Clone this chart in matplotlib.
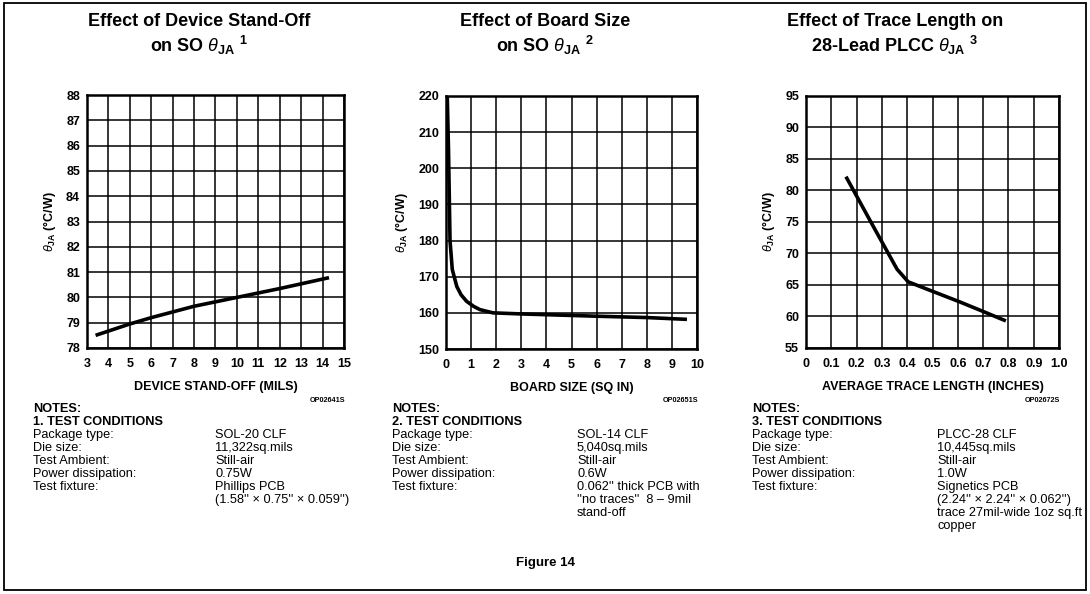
import numpy as np
import matplotlib as mpl
mpl.use('Agg')
from matplotlib import pyplot as plt
from matplotlib.patches import Rectangle

# Curve data
standoff_x = [3.4, 5, 6, 8, 10, 12, 14.3]
standoff_y = [78.5, 78.95, 79.2, 79.65, 80.0, 80.35, 80.78]

board_x = [0.05, 0.1, 0.16, 0.25, 0.43, 0.6, 0.82, 1.1, 1.35, 1.87, 3.0, 5.86, 8.0, 9.6]
board_y = [220, 205, 180, 172, 167.3, 165.0, 163.2, 161.8, 160.9, 160.0, 159.7, 159.1, 158.7, 158.2]

trace_x = [0.158, 0.266, 0.36, 0.404, 0.5, 0.609, 0.70, 0.79]
trace_y = [82.2, 74.3, 67.5, 65.5, 64.0, 62.3, 60.8, 59.3]

W, H = 1090, 594
mpl.rc('font', family=['Liberation Sans', 'DejaVu Sans'])
mpl.rc('mathtext', fontset='custom', rm='Liberation Sans', it='Liberation Sans:italic',
       bf='Liberation Sans:bold')

fig = plt.figure(figsize=(W / 100, H / 100), dpi=100)


def fx(x):
    return x / W


def fy(y):
    return 1 - y / H


def add_panel(box, tcx, xlim, ylim, xticks, yticks, xlabels, x, y, title, xlabel, code, notes, nx, vx):
    left, top, right, bottom = box
    ax = fig.add_axes([fx(left), fy(bottom), (right - left) / W, (bottom - top) / H])
    ax.set_xlim(*xlim)
    ax.set_ylim(*ylim)
    ax.set_xticks(xticks)
    ax.set_yticks(yticks)
    ax.set_xticklabels(xlabels, fontsize=9, fontweight='bold')
    ax.set_yticklabels([str(v) for v in yticks], fontsize=9, fontweight='bold')
    ax.tick_params(axis='x', length=0, pad=7)
    ax.tick_params(axis='y', length=0, pad=5)
    ax.grid(True, color='black', lw=1.1)
    for s in ax.spines.values():
        s.set_linewidth(1.8)
    ax.plot(x, y, color='black', lw=2.6, solid_capstyle='butt')
    ax.set_ylabel(r'$\theta_{\mathbf{JA}}$ (°C/W)', fontsize=9, fontweight='bold', labelpad=6)
    ax.set_xlabel(xlabel, fontsize=9, fontweight='bold', labelpad=8)

    fig.text(fx(tcx), fy(22), title[0], ha='center', va='center', fontsize=13, fontweight='bold')
    fig.text(fx(tcx), fy(45), title[1], ha='center', va='center', fontsize=13, fontweight='bold')
    fig.text(fx(right + 1), fy(400), code, ha='right', va='center', fontsize=5.2, fontweight='bold')

    fs = 9.2
    fig.text(fx(nx), fy(409), 'NOTES:', ha='left', va='center', fontsize=fs, fontweight='bold')
    fig.text(fx(nx), fy(422), notes[0], ha='left', va='center', fontsize=fs, fontweight='bold')
    for i, (k, v) in enumerate(notes[1]):
        yy = 435 + 13 * i
        if k:
            fig.text(fx(nx), fy(yy), k, ha='left', va='center', fontsize=fs)
        fig.text(fx(vx), fy(yy), v, ha='left', va='center', fontsize=fs)
    return ax


add_panel((87, 95, 344, 348), 199, (3, 15), (78, 88), range(3, 16), list(range(78, 89)),
          [str(v) for v in range(3, 16)], standoff_x, standoff_y,
          ('Effect of Device Stand-Off', r'on SO $\theta_{\mathbf{JA}}$ $^{\mathbf{1}}$'),
          'DEVICE STAND-OFF (MILS)', 'OP02641S',
          ('1. TEST CONDITIONS', [('Package type:', 'SOL-20 CLF'),
                                  ('Die size:', '11,322sq.mils'),
                                  ('Test Ambient:', 'Still-air'),
                                  ('Power dissipation:', '0.75W'),
                                  ('Test fixture:', 'Phillips PCB'),
                                  ('', "(1.58'' × 0.75'' × 0.059'')")]), 33, 215)

add_panel((446, 96, 697, 349), 545, (0, 10), (150, 220), range(0, 11), list(range(150, 221, 10)),
          [str(v) for v in range(0, 11)], board_x, board_y,
          ('Effect of Board Size', r'on SO $\theta_{\mathbf{JA}}$ $^{\mathbf{2}}$'),
          'BOARD SIZE (SQ IN)', 'OP02651S',
          ('2. TEST CONDITIONS', [('Package type:', 'SOL-14 CLF'),
                                  ('Die size:', '5,040sq.mils'),
                                  ('Test Ambient:', 'Still-air'),
                                  ('Power dissipation:', '0.6W'),
                                  ('Test fixture:', "0.062'' thick PCB with"),
                                  ('', "''no traces''  8 – 9mil"),
                                  ('', 'stand-off')]), 392, 577)

add_panel((806, 96, 1059, 348), 895, (0, 1), (55, 95), np.arange(0, 1.01, 0.1), list(range(55, 96, 5)),
          ['0'] + ['0.%d' % i for i in range(1, 10)] + ['1.0'], trace_x, trace_y,
          ('Effect of Trace Length on', r'28-Lead PLCC $\theta_{\mathbf{JA}}$ $^{\mathbf{3}}$'),
          'AVERAGE TRACE LENGTH (INCHES)', 'OP02672S',
          ('3. TEST CONDITIONS', [('Package type:', 'PLCC-28 CLF'),
                                  ('Die size:', '10,445sq.mils'),
                                  ('Test Ambient:', 'Still-air'),
                                  ('Power dissipation:', '1.0W'),
                                  ('Test fixture:', 'Signetics PCB'),
                                  ('', "(2.24'' × 2.24'' × 0.062'')"),
                                  ('', 'trace 27mil-wide 1oz sq.ft'),
                                  ('', 'copper')]), 752, 937)

fig.text(fx(545), fy(563), 'Figure 14', ha='center', va='center', fontsize=9.5, fontweight='bold')

fig.add_artist(Rectangle((fx(4), fy(590)), (1086 - 4) / W, (590 - 3) / H,
                         transform=fig.transFigure, fill=False, lw=1.3, ec='black'))

fig.savefig('out.png', dpi=100)
